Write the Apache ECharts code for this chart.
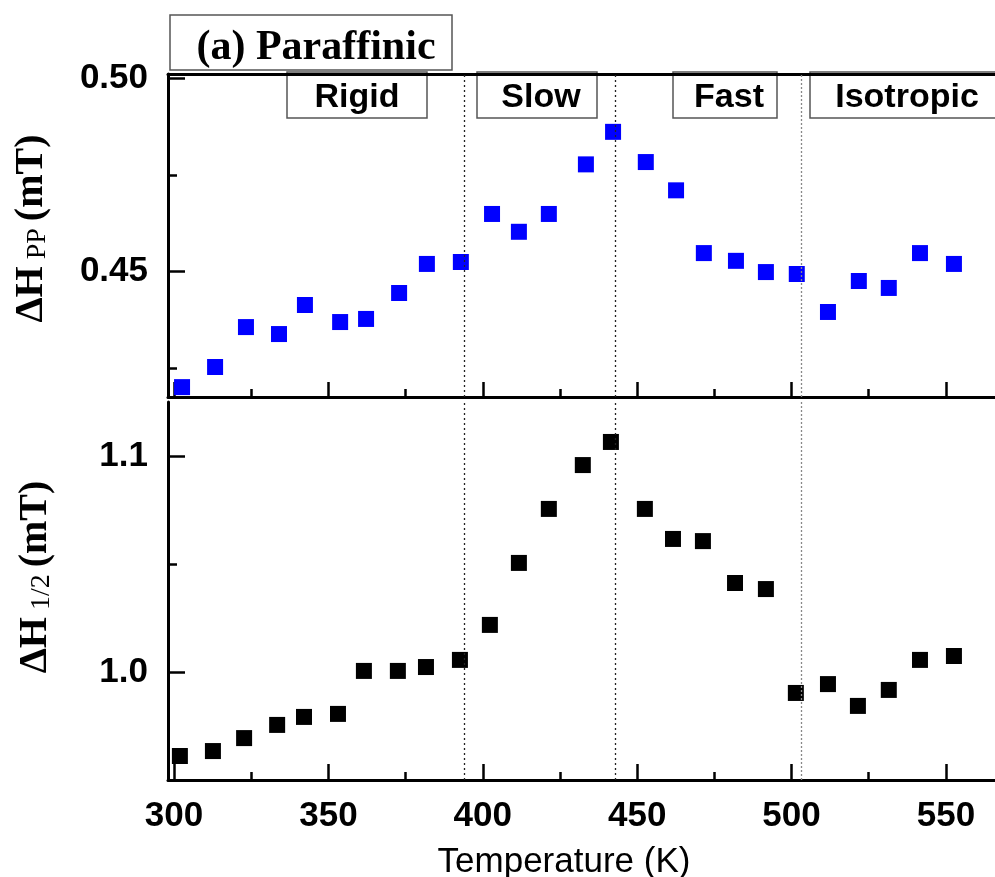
<!DOCTYPE html>
<html>
<head>
<meta charset="utf-8">
<script src="https://cdn.jsdelivr.net/npm/echarts@6.0.0/dist/echarts.min.js"></script>
<style>
  html, body { margin: 0; padding: 0; background: #fff; }
  #chart { width: 995px; height: 877px; }
</style>
</head>
<body>
<div id="chart"></div>
<script>
// temperature (K) and line widths (mT)
var tempPP = [302.6, 313.3, 323.3, 334.0, 342.4, 353.8, 362.2, 372.9, 381.9, 392.9, 403.0, 411.7, 421.4,
  433.4, 442.2, 452.8, 462.6, 471.6, 482.0, 491.7, 501.7, 511.8, 521.8, 531.5, 541.6, 552.6];
var dHpp = [0.4202, 0.4254, 0.4357, 0.4339, 0.4414, 0.4370, 0.4378, 0.4445, 0.4520, 0.4525, 0.4649, 0.4603, 0.4649,
  0.4777, 0.4861, 0.4783, 0.4710, 0.4548, 0.4528, 0.4499, 0.4494, 0.4396, 0.4476, 0.4458, 0.4548, 0.4520];

var tempHalf = [301.9, 312.6, 322.7, 333.4, 342.1, 353.1, 361.5, 372.5, 381.6, 392.6, 402.3, 411.7, 421.4,
  432.4, 441.5, 452.5, 461.6, 471.3, 481.7, 491.7, 501.4, 511.8, 521.5, 531.5, 541.6, 552.6];
var dHhalf = [0.9611, 0.9634, 0.9694, 0.9755, 0.9792, 0.9806, 1.0005, 1.0005, 1.0023, 1.0056, 1.0218, 1.0505, 1.0755,
  1.0958, 1.1065, 1.0755, 1.0616, 1.0606, 1.0412, 1.0384, 0.9903, 0.9944, 0.9843, 0.9917, 1.0056, 1.0074];

var xMajor = [300, 350, 400, 450, 500, 550];
var xMinor = [325, 375, 425, 475, 525];
var ppMajor = [0.45, 0.50];
var ppMinor = [0.425, 0.475];
var halfMajor = [1.0, 1.1];
var halfMinor = [1.05];

var phaseBounds = [394, 443, 503];
var phaseNames = ['Rigid', 'Slow', 'Fast', 'Isotropic'];

var X_MIN = 298.05, X_MAX = 565.9;

function zip(a, b) {
  return a.map(function (v, i) { return [v, b[i]]; });
}

var sans = 'Liberation Sans, Arial, sans-serif';
var serif = 'Liberation Serif, Times New Roman, serif';
var lineStyle = { color: '#000', width: 3 };

function xAx(grid, ticks, len, opts) {
  return Object.assign({
    type: 'value', gridIndex: grid, min: X_MIN, max: X_MAX, position: 'bottom',
    axisLine: { show: false, onZero: false },
    axisTick: { show: true, inside: true, length: len, customValues: ticks, lineStyle: { color: '#000', width: 2.5 } },
    axisLabel: { show: false },
    splitLine: { show: false }
  }, opts || {});
}

function yAx(grid, min, max, ticks, len, opts) {
  return Object.assign({
    type: 'value', gridIndex: grid, min: min, max: max, position: 'left',
    axisLine: { show: false, onZero: false },
    axisTick: { show: true, inside: true, length: len, customValues: ticks, lineStyle: { color: '#000', width: 2.5 } },
    axisLabel: { show: false },
    splitLine: { show: false }
  }, opts || {});
}

var yTitleRich = {
  a: { fontFamily: serif, fontWeight: 'bold', fontSize: 40, color: '#000', verticalAlign: 'bottom', lineHeight: 42 },
  b: { fontFamily: serif, fontSize: 28, color: '#000', verticalAlign: 'bottom', lineHeight: 36 }
};

var markLines = {
  silent: true,
  symbol: 'none',
  label: { show: false },
  lineStyle: { color: '#222', type: [2, 3], width: 1.3 },
  data: phaseBounds.map(function (v, i) {
    return i === 2 ? { xAxis: v, lineStyle: { color: '#888', type: [2, 2] } } : { xAxis: v };
  })
};

// phase label boxes along the top edge
var boxes = [
  { x: 287, w: 140, tx: 357 },
  { x: 477, w: 120, tx: 541 },
  { x: 673, w: 104, tx: 729 },
  { x: 810, w: 200, tx: 907 }
];
var graphics = [{
  type: 'group', z: 100,
  children: [
    { type: 'rect', shape: { x: 170, y: 15, width: 282, height: 55 }, style: { fill: '#fff', stroke: '#555', lineWidth: 1.5 } },
    { type: 'text', x: 316, y: 48, style: { text: '(a) Paraffinic', fontFamily: serif, fontWeight: 'bold', fontSize: 42, fill: '#000', align: 'center', verticalAlign: 'middle' } }
  ]
}];
boxes.forEach(function (b, i) {
  graphics.push({
    type: 'group', z: 100,
    children: [
      { type: 'rect', shape: { x: b.x, y: 72, width: b.w, height: 46 }, style: { fill: '#fff', stroke: '#555', lineWidth: 1.5 } },
      { type: 'text', x: b.tx, y: 98, style: { text: phaseNames[i], fontFamily: sans, fontWeight: 'bold', fontSize: 34, fill: '#000', align: 'center', verticalAlign: 'middle' } }
    ]
  });
});

var chart = echarts.init(document.getElementById('chart'), null, { renderer: 'canvas' });

var option = {
  backgroundColor: '#fff',
  animation: false,
  grid: [
    { left: 168, right: 0, top: 74, height: 323, outerBoundsMode: 'none' },
    { left: 168, right: 0, top: 402, height: 378, outerBoundsMode: 'none' }
  ],
  xAxis: [
    xAx(0, xMajor, 15, { axisLine: { show: true, onZero: false, lineStyle: lineStyle } }),
    xAx(0, xMinor, 8),
    xAx(1, xMajor, 16, {
      axisLine: { show: true, onZero: false, lineStyle: lineStyle },
      axisLabel: {
        show: true, customValues: xMajor, margin: 19,
        fontFamily: sans, fontWeight: 'bold', fontSize: 35, color: '#000'
      },
      name: 'Temperature (K)',
      nameLocation: 'middle',
      nameGap: 65,
      nameTextStyle: { fontFamily: sans, fontSize: 35, color: '#000', padding: [0, 35, 0, 0] }
    }),
    xAx(1, xMinor, 8),
    // top frame line of the upper panel
    xAx(0, [], 0, { position: 'top', axisLine: { show: true, onZero: false, lineStyle: lineStyle }, axisTick: { show: false } })
  ],
  yAxis: [
    yAx(0, 0.41765, 0.50103, ppMajor, 17, {
      axisLine: { show: true, onZero: false, lineStyle: lineStyle },
      axisLabel: {
        show: true, customValues: ppMajor, margin: 20,
        fontFamily: sans, fontWeight: 'bold', fontSize: 35, color: '#000',
        formatter: function (v) { return v.toFixed(2); }
      },
      name: '{a|ΔH}{b| PP }{a|(mT)}',
      nameLocation: 'middle',
      nameRotate: 90,
      nameGap: 116,
      nameTextStyle: { rich: yTitleRich, padding: [0, 0, 0, 14] }
    }),
    yAx(0, 0.41765, 0.50103, ppMinor, 9),
    yAx(1, 0.95, 1.125, halfMajor, 17, {
      axisLine: { show: true, onZero: false, lineStyle: lineStyle },
      axisLabel: {
        show: true, customValues: halfMajor, margin: 20,
        fontFamily: sans, fontWeight: 'bold', fontSize: 35, color: '#000',
        formatter: function (v) { return v.toFixed(1); }
      },
      name: '{a|ΔH}{b| 1/2 }{a|(mT)}',
      nameLocation: 'middle',
      nameRotate: 90,
      nameGap: 112,
      nameTextStyle: { rich: yTitleRich, padding: [0, 0, 0, 28] }
    }),
    yAx(1, 0.95, 1.125, halfMinor, 9)
  ],
  series: [
    {
      type: 'scatter', xAxisIndex: 0, yAxisIndex: 0,
      symbol: 'rect', symbolSize: 16,
      itemStyle: { color: '#0000ff', opacity: 1 },
      data: zip(tempPP, dHpp),
      markLine: markLines
    },
    {
      type: 'scatter', xAxisIndex: 2, yAxisIndex: 2,
      symbol: 'rect', symbolSize: 16,
      itemStyle: { color: '#000', opacity: 1 },
      data: zip(tempHalf, dHhalf),
      markLine: markLines
    }
  ],
  graphic: graphics
};

chart.setOption(option);
</script>
</body>
</html>
